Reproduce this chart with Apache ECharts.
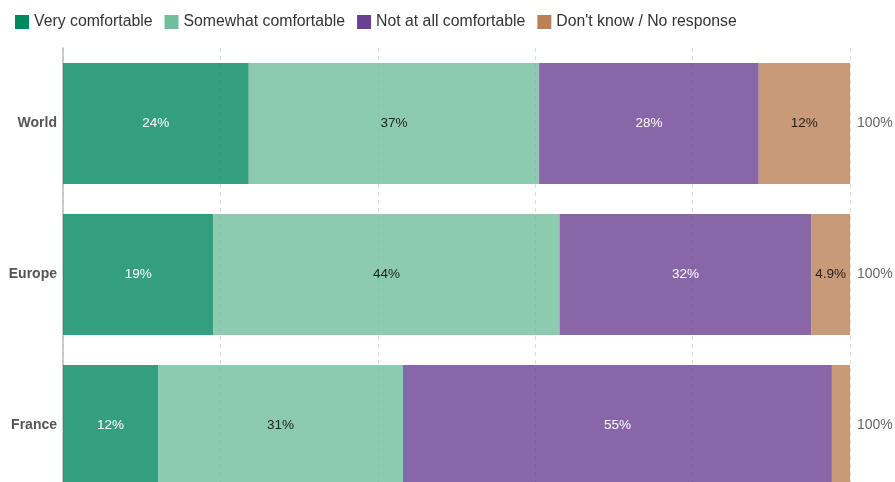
<!DOCTYPE html>
<html>
<head>
<meta charset="utf-8">
<script src="https://cdn.jsdelivr.net/npm/echarts@6/dist/echarts.min.js"></script>
<style>
  html, body { margin: 0; padding: 0; background: #fff; }
</style>
</head>
<body>
<div id="chart" style="width: 895px; height: 482px"></div>
<script>
// regions, top to bottom
const regions = ["World", "Europe", "France"];
const seriesNames = ["Very comfortable", "Somewhat comfortable", "Not at all comfortable", "Don't know / No response"];
const veryComfortable = [23.6, 19.1, 12.1];
const somewhatComfortable = [36.9, 44.0, 31.1];
const notAtAll = [27.9, 32.0, 54.5];
const dontKnow = [11.6, 4.9, 2.3];
const totalLabels = ["100%", "100%", "100%"];

const colors = ["#01875e", "#6fbe9c", "#6b4092", "#bb8156"];
// same colours at 80% so the dashed grid shows through the bars
const barColors = ["rgba(1,135,94,0.8)", "rgba(111,190,156,0.8)", "rgba(107,64,146,0.8)", "rgba(187,129,86,0.8)"];
const labelColors = ["#fff", "#222", "#fff", "#222"];

const values = [veryComfortable, somewhatComfortable, notAtAll, dontKnow];

function fmt(v) {
  if (v < 3) return "";
  return (v >= 10 ? Math.round(v) : v.toFixed(1)) + "%";
}

const chart = echarts.init(document.getElementById("chart"));
const option = {
  animation: false,
  textStyle: { fontFamily: "Liberation Sans, Arial, sans-serif" },
  legend: {
    left: 10,
    top: 9,
    itemWidth: 14,
    itemHeight: 14,
    itemGap: 12,
    icon: "rect",
    textStyle: { fontSize: 15.8, color: "#333" },
    data: seriesNames.map((n, i) => ({ name: n, itemStyle: { color: colors[i] } }))
  },
  grid: { left: 63, right: 45, top: 48, bottom: -19, outerBoundsMode: "none" },
  xAxis: {
    type: "value",
    min: 0,
    max: 100,
    interval: 20,
    axisLabel: { show: false },
    axisLine: { show: false },
    axisTick: { show: false },
    splitLine: { show: true, lineStyle: { color: "#ddd", type: [4, 4] } }
  },
  yAxis: [
    {
      type: "category",
      inverse: true,
      data: regions,
      axisTick: { show: false },
      axisLine: { show: true, lineStyle: { color: "#bbb", width: 1.5 } },
      axisLabel: { fontSize: 14, fontWeight: "bold", color: "#555", margin: 6 }
    },
    {
      type: "category",
      inverse: true,
      position: "right",
      data: totalLabels,
      axisTick: { show: false },
      axisLine: { show: false },
      axisLabel: { fontSize: 14, color: "#666", margin: 7 }
    }
  ],
  series: seriesNames.map((n, i) => ({
    name: n,
    type: "bar",
    stack: "total",
    barCategoryGap: "20%",
    data: values[i],
    itemStyle: { color: barColors[i] },
    label: {
      show: true,
      position: "inside",
      fontSize: 13.5,
      color: labelColors[i],
      formatter: p => fmt(p.value)
    }
  }))
};
chart.setOption(option);
</script>
</body>
</html>
